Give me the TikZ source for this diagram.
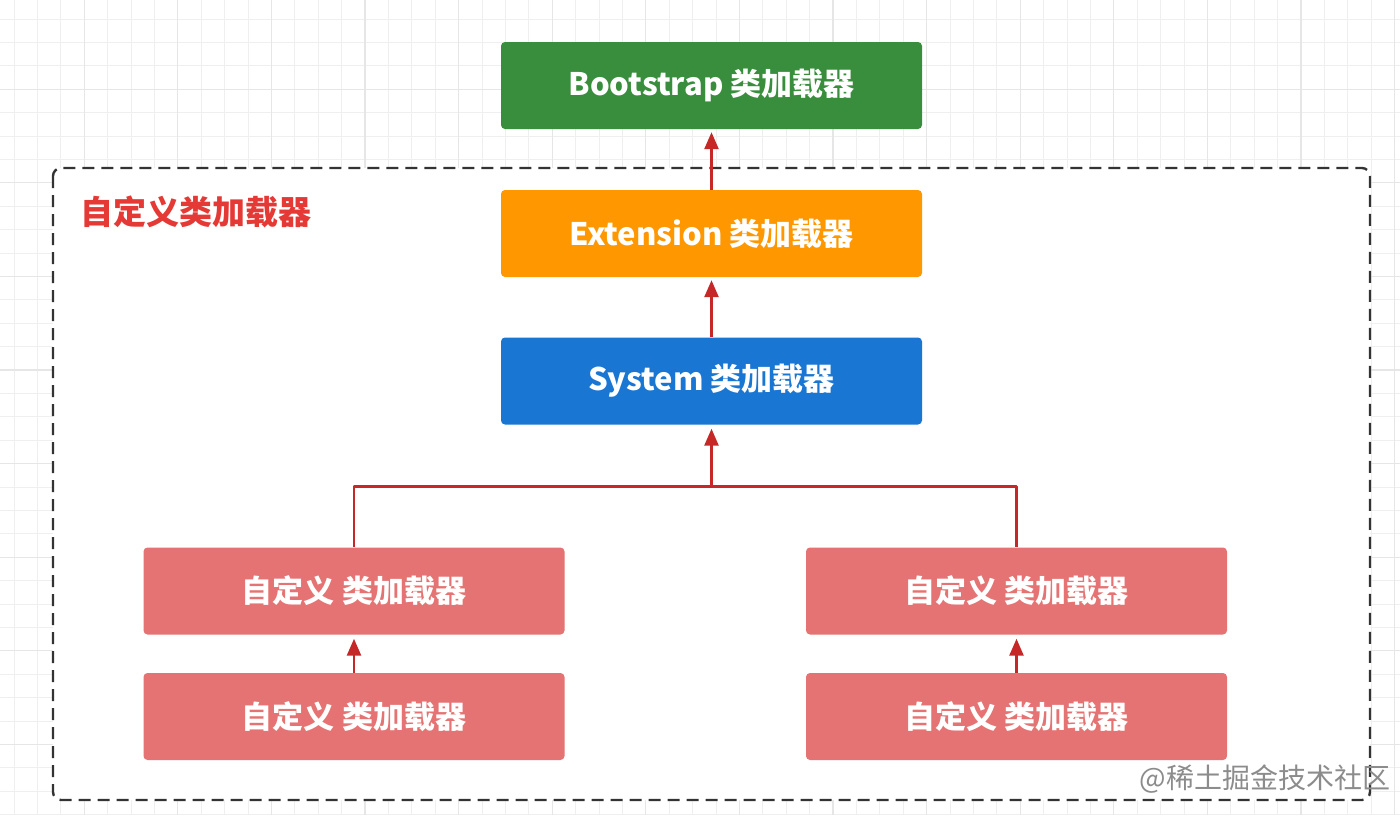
\documentclass[tikz,border=0pt]{standalone}
\usepackage{fontspec}
\setmainfont{Noto Sans CJK SC}
\usetikzlibrary{arrows.meta,calc}
\definecolor{gridmin}{HTML}{EFEFEF}
\definecolor{gridmaj}{HTML}{E6E6E6}
\definecolor{bsgreen}{HTML}{388E3C}
\definecolor{exorange}{HTML}{FF9800}
\definecolor{syblue}{HTML}{1976D2}
\definecolor{clred}{HTML}{E57373}
\definecolor{lblred}{HTML}{E53935}
\definecolor{arrred}{HTML}{C62828}

\begin{document}
\begin{tikzpicture}[x=1pt,y=-1pt,line join=round,
  loader/.style={rectangle,rounded corners=4pt,minimum width=421pt,minimum height=87pt,
    inner sep=0pt,text=white,font=\fontsize{31}{36}\selectfont\bfseries},
  link/.style={arrred,line width=2.6pt},
  up/.style={link,-{Triangle[width=14pt,length=17pt]}}]
  \useasboundingbox (0,0) rectangle (1400,815);
  % background grid
  \foreach \i in {0,...,59} {
    \pgfmathsetmacro{\gx}{14+23.4*\i}
    \draw[gridmin,line width=1pt] (\gx,0) -- (\gx,815);
  }
  \foreach \j in {0,...,34} {
    \pgfmathsetmacro{\gy}{19+23.4*\j}
    \draw[gridmin,line width=1pt] (0,\gy) -- (1400,\gy);
  }
  \foreach \i in {0,...,14} {
    \pgfmathsetmacro{\gx}{84.2+93.6*\i}
    \draw[gridmaj,line width=1.2pt] (\gx,0) -- (\gx,815);
  }
  \foreach \j in {0,...,8} {
    \pgfmathsetmacro{\gy}{89.2+93.6*\j}
    \draw[gridmaj,line width=1.2pt] (0,\gy) -- (1400,\gy);
  }
  % dashed frame
  \draw[fill=white,draw=black!80,line width=2.4pt,dash pattern=on 12pt off 7pt,rounded corners=8pt]
    (53,168) rectangle (1370,800);
  \node[anchor=west,text=lblred,font=\fontsize{33}{38}\selectfont\bfseries] (LBL) at (77,212) {自定义类加载器};
  % loaders
  \node[loader,fill=bsgreen] (BS) at (711.5,85.5) {Bootstrap 类加载器};
  \node[loader,fill=exorange] (EX) at (711.5,233.5) {Extension 类加载器};
  \node[loader,fill=syblue] (SY) at (711.5,381) {System 类加载器};
  \node[loader,fill=clred] (CL1) at (354,591) {自定义 类加载器};
  \node[loader,fill=clred] (CL2) at (354,716.5) {自定义 类加载器};
  \node[loader,fill=clred] (CR1) at (1016.5,591) {自定义 类加载器};
  \node[loader,fill=clred] (CR2) at (1016.5,716.5) {自定义 类加载器};
  \coordinate (J) at ($(SY.south)+(0,62)$);
  % connectors
  \draw[up] (EX.north) -- ([yshift=-3pt]BS.south);
  \draw[up] (SY.north) -- ([yshift=-3pt]EX.south);
  \draw[link] (CL1.north) |- (J) -| (CR1.north);
  \draw[up] (J) -- ([yshift=-4pt]SY.south);
  \draw[up] (CL2.north) -- ([yshift=-4pt]CL1.south);
  \draw[up] (CR2.north) -- ([yshift=-4pt]CR1.south);
  \node[anchor=east,text=black!45,font=\fontsize{28}{32}\selectfont] (WM) at (1394,779) {@稀土掘金技术社区};
\end{tikzpicture}
\end{document}
